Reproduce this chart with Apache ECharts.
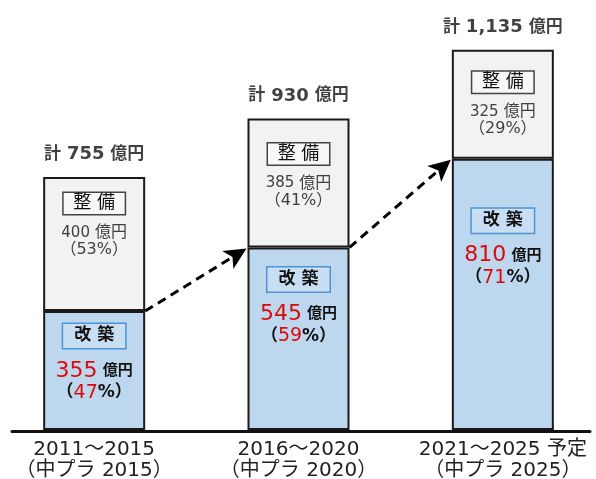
<!DOCTYPE html>
<html>
<head>
<meta charset="utf-8">
<script src="https://cdn.jsdelivr.net/npm/echarts@6/dist/echarts.min.js"></script>
<style>
  html, body { margin: 0; padding: 0; background: #fff; }
  #chart { width: 596px; height: 479px; }
</style>
</head>
<body>
<div id="chart"></div>
<script>
  // 期間（中期計画）
  const categories = ['2011～2015\n（中プラ 2015）', '2016～2020\n（中プラ 2020）', '2021～2025 予定\n（中プラ 2025）']
  // 改築（億円）
  const kaichiku = [355, 545, 810]
  const kaichikuPct = [47, 59, 71]
  // 整備（億円）
  const seibi = [400, 385, 325]
  const seibiPct = [53, 41, 29]
  // 合計
  const totals = kaichiku.map((v, i) => v + seibi[i])

  // ラベルの上端からの距離（棒ごと）
  const kaichikuGap = [1, 8, 38]
  const seibiGap = [5.5, 14.5, 11.5]

  const FONT = 'DejaVu Sans, Noto Sans CJK JP'
  const RED = '#dd0a0a'
  const BAR_W = 102

  const chartInstance = echarts.init(document.getElementById('chart'))

  const kaichikuData = kaichiku.map((v, i) => ({
    value: v,
    label: { distance: kaichikuGap[i] }
  }))
  const seibiData = seibi.map((v, i) => ({
    value: v,
    label: { distance: seibiGap[i] }
  }))

  const option = {
    animation: false,
    grid: [
      { left: -8, right: -9, top: 28, bottom: 49, outerBoundsMode: 'none', containLabel: false },
      // 下の横線だけ
      { left: 12, right: 6, top: 28, bottom: 48, outerBoundsMode: 'none', containLabel: false }
    ],
    xAxis: [
      {
        type: 'category',
        gridIndex: 0,
        data: categories,
        axisLine: { show: false },
        axisTick: { show: false },
        axisLabel: {
          interval: 0,
          margin: 9,
          fontFamily: FONT,
          fontSize: 20,
          lineHeight: 21,
          color: '#222'
        }
      },
      {
        type: 'value',
        gridIndex: 1,
        min: 0,
        max: 1,
        axisLine: { show: true, lineStyle: { color: '#111', width: 3 } },
        axisTick: { show: false },
        axisLabel: { show: false },
        splitLine: { show: false }
      }
    ],
    yAxis: [
      { type: 'value', gridIndex: 0, min: 0, max: 1200, show: false },
      { type: 'value', gridIndex: 1, min: 0, max: 1, show: false }
    ],
    series: [
      {
        name: '改築',
        type: 'bar',
        stack: 'total',
        barWidth: BAR_W,
        data: kaichikuData,
        itemStyle: { color: '#bdd7ee', borderColor: '#1a1a1a', borderWidth: 2 },
        label: {
          show: true,
          position: 'insideTop',
          align: 'center',
          formatter: p => '{box|改 築}\n{num|' + p.value + '}{unit| 億円}\n{par|（}{pnum|' + kaichikuPct[p.dataIndex] + '}{par|%）}',
          rich: {
            box: {
              fontFamily: FONT, fontSize: 17, fontWeight: 'bold', color: '#111',
              width: 62, height: 24, align: 'center', lineHeight: 48,
              backgroundColor: '#c8def2', borderColor: '#4d94d6', borderWidth: 1.5
            },
            num: { fontFamily: FONT, fontSize: 22, color: RED, lineHeight: 22 },
            unit: { fontFamily: FONT, fontSize: 15, fontWeight: 'bold', color: '#111', lineHeight: 22 },
            par: { fontFamily: FONT, fontSize: 17, fontWeight: 'bold', color: '#111', lineHeight: 22 },
            pnum: { fontFamily: FONT, fontSize: 19, color: RED, lineHeight: 22 }
          }
        }
      },
      {
        name: '整備',
        type: 'bar',
        stack: 'total',
        barWidth: BAR_W,
        data: seibiData,
        itemStyle: { color: '#f2f2f2', borderColor: '#1a1a1a', borderWidth: 2 },
        label: {
          show: true,
          position: 'insideTop',
          align: 'center',
          formatter: p => '{box|整 備}\n{num|' + p.value + '}{unit| 億円}\n{par|（' + seibiPct[p.dataIndex] + '%）}',
          rich: {
            box: {
              fontFamily: FONT, fontSize: 18, color: '#111',
              width: 61, height: 21, align: 'center', lineHeight: 42,
              backgroundColor: '#f7f7f7', borderColor: '#444', borderWidth: 1.5
            },
            num: { fontFamily: FONT, fontSize: 15, color: '#404040', lineHeight: 17 },
            unit: { fontFamily: FONT, fontSize: 16, color: '#404040', lineHeight: 17 },
            par: { fontFamily: FONT, fontSize: 16, color: '#404040', lineHeight: 17 }
          }
        }
      },
      {
        // 合計ラベル
        name: '合計',
        type: 'scatter',
        data: totals,
        symbolSize: 1,
        itemStyle: { color: 'rgba(0,0,0,0)' },
        label: {
          show: true,
          position: 'top',
          distance: 13,
          formatter: p => '{t|計 }{n|' + p.value.toLocaleString('en-US') + '}{t| 億円}',
          rich: {
            t: { fontFamily: FONT, fontSize: 17, fontWeight: 'bold', color: '#111' },
            n: { fontFamily: FONT, fontSize: 18, fontWeight: 'bold', color: '#111' }
          }
        }
      }
    ]
  }
  chartInstance.setOption(option)

  // 矢印：改築の上端（右角）→ 次の棒の改築の上端（左角）
  const half = BAR_W / 2
  const arrows = []
  for (let i = 0; i < kaichiku.length - 1; i++) {
    const a = chartInstance.convertToPixel({ seriesIndex: 0 }, [i, kaichiku[i]])
    const b = chartInstance.convertToPixel({ seriesIndex: 0 }, [i + 1, kaichiku[i + 1]])
    arrows.push([{ x: a[0] + half, y: a[1] }, { x: b[0] - half - 1, y: b[1] + 1 }])
  }
  chartInstance.setOption({
    series: [{
      name: '改築',
      markLine: {
        silent: true,
        symbol: ['none', 'arrow'],
        symbolSize: [16, 22],
        label: { show: false },
        lineStyle: { color: '#000', width: 3, type: [9, 6] },
        data: arrows
      }
    }]
  })
</script>
</body>
</html>
